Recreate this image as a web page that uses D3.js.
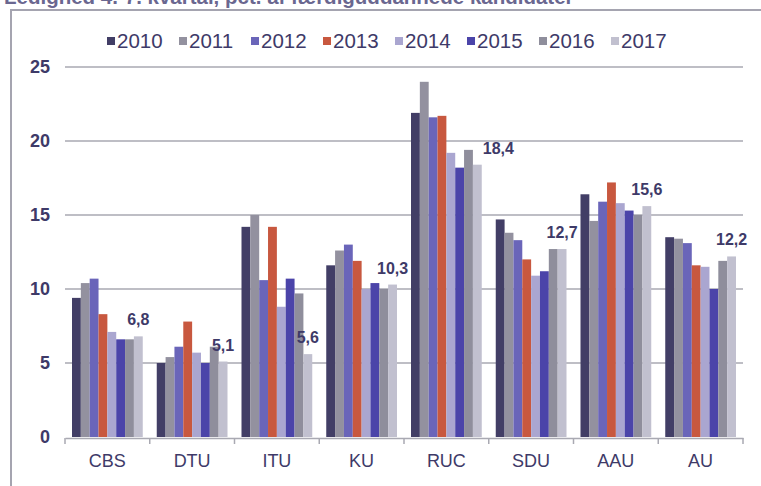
<!DOCTYPE html>
<html>
<head>
<meta charset="utf-8">
<script src="https://cdn.jsdelivr.net/npm/d3@7"></script>
<style>
  body { margin: 0; background: #fff; }
  svg { display: block; font-family: "Liberation Sans", Arial, sans-serif; }
</style>
</head>
<body>
<script>
var categories = ["CBS", "DTU", "ITU", "KU", "RUC", "SDU", "AAU", "AU"];
var years = ["2010", "2011", "2012", "2013", "2014", "2015", "2016", "2017"];

// one array per year, values per category
var v2010 = [9.4, 5.0, 14.2, 11.6, 21.9, 14.7, 16.4, 13.5];
var v2011 = [10.4, 5.4, 15.0, 12.6, 24.0, 13.8, 14.6, 13.4];
var v2012 = [10.7, 6.1, 10.6, 13.0, 21.6, 13.3, 15.9, 13.1];
var v2013 = [8.3, 7.8, 14.2, 11.9, 21.7, 12.0, 17.2, 11.6];
var v2014 = [7.1, 5.7, 8.8, 10.0, 19.2, 10.9, 15.8, 11.5];
var v2015 = [6.6, 5.0, 10.7, 10.4, 18.2, 11.2, 15.3, 10.0];
var v2016 = [6.6, 6.1, 9.7, 10.0, 19.4, 12.7, 15.0, 11.9];
var v2017 = [6.8, 5.1, 5.6, 10.3, 18.4, 12.7, 15.6, 12.2];

var yTicks = [0, 5, 10, 15, 20, 25];
var title = "Ledighed 4.-7. kvartal, pct. af færdiguddannede kandidater";

var series = [v2010, v2011, v2012, v2013, v2014, v2015, v2016, v2017];
var colors = ["#423e66", "#93919f", "#6a65b9", "#c8583f", "#aaa6d0", "#4b44a9", "#8f8e9c", "#c1c0cf"];
var textColor = "#3e3a68";

var width = 761, height = 486;
var svg = d3.select("body").append("svg")
    .attr("width", width)
    .attr("height", height);

// title (cut off at top, as in the source screenshot) and frame
svg.append("text")
    .attr("x", 4)
    .attr("y", 4)
    .attr("font-size", "20.5px")
    .attr("font-weight", "bold")
    .attr("fill", "#6a6790")
    .text(title);

svg.append("rect")
    .attr("x", 11)
    .attr("y", 10)
    .attr("width", 800)
    .attr("height", 600)
    .attr("fill", "none")
    .attr("stroke", "#a5a4b0")
    .attr("stroke-width", 2);

var x0 = d3.scaleBand().domain(categories).range([65, 743]);
var x1 = d3.scaleBand().domain(years).range([7, x0.bandwidth() - 7]);
var y = d3.scaleLinear().domain([0, 25]).range([437, 67]);

// gridlines
svg.selectAll("line.grid")
    .data(yTicks.filter(function(d) { return d > 0; }))
    .enter()
    .append("line")
    .attr("class", "grid")
    .attr("x1", 65)
    .attr("x2", 743)
    .attr("y1", function(d) { return y(d); })
    .attr("y2", function(d) { return y(d); })
    .attr("stroke", "#a9a9b2")
    .attr("stroke-width", 1.5);

svg.selectAll("text.ytick")
    .data(yTicks)
    .enter()
    .append("text")
    .attr("class", "ytick")
    .attr("x", 50)
    .attr("y", function(d) { return y(d) + 6; })
    .attr("text-anchor", "end")
    .attr("font-size", "18px")
    .attr("font-weight", "bold")
    .attr("fill", textColor)
    .text(function(d) { return d; });

// bars
var groups = svg.selectAll("g.cat")
    .data(categories)
    .enter()
    .append("g")
    .attr("class", "cat")
    .attr("transform", function(d) { return "translate(" + x0(d) + ",0)"; });

groups.selectAll("rect")
    .data(function(d, i) {
        return years.map(function(yr, j) { return { year: yr, value: series[j][i], color: colors[j] }; });
    })
    .enter()
    .append("rect")
    .attr("x", function(d) { return x1(d.year); })
    .attr("y", function(d) { return y(d.value); })
    .attr("width", x1.bandwidth())
    .attr("height", function(d) { return y(0) - y(d.value); })
    .attr("fill", function(d) { return d.color; });

// x axis
var axis = svg.append("g")
    .attr("transform", "translate(0,438)")
    .call(d3.axisBottom(x0).tickSize(0).tickFormat(""));
axis.select(".domain").attr("stroke", "#a9a9b2").attr("stroke-width", 1.5);
axis.selectAll(".tick").remove();

svg.selectAll("line.sep")
    .data(categories.concat(["end"]))
    .enter()
    .append("line")
    .attr("class", "sep")
    .attr("x1", function(d, i) { return 65 + i * x0.bandwidth(); })
    .attr("x2", function(d, i) { return 65 + i * x0.bandwidth(); })
    .attr("y1", 438)
    .attr("y2", 444)
    .attr("stroke", "#a9a9b2")
    .attr("stroke-width", 1.5);

svg.selectAll("text.cat")
    .data(categories)
    .enter()
    .append("text")
    .attr("class", "cat")
    .attr("x", function(d) { return x0(d) + x0.bandwidth() / 2; })
    .attr("y", 467)
    .attr("text-anchor", "middle")
    .attr("font-size", "18px")
    .attr("fill", textColor)
    .text(function(d) { return d; });

// value labels for 2017
var labelDx = { RUC: 21 };
svg.selectAll("text.val")
    .data(categories)
    .enter()
    .append("text")
    .attr("class", "val")
    .attr("x", function(d) { return x0(d) + x1("2017") + x1.bandwidth() / 2 + (labelDx[d] || 0); })
    .attr("y", function(d, i) { return y(v2017[i]) - 11; })
    .attr("text-anchor", "middle")
    .attr("font-size", "16px")
    .attr("font-weight", "bold")
    .attr("fill", textColor)
    .text(function(d, i) { return d3.format(".1f")(v2017[i]).replace(".", ","); });

// legend
var legend = svg.selectAll("g.leg")
    .data(years)
    .enter()
    .append("g")
    .attr("class", "leg")
    .attr("transform", function(d, i) { return "translate(" + (107 + i * 72) + ",0)"; });

legend.append("rect")
    .attr("x", 0)
    .attr("y", 37)
    .attr("width", 8)
    .attr("height", 8)
    .attr("fill", function(d, i) { return colors[i]; });

legend.append("text")
    .attr("x", 10)
    .attr("y", 48)
    .attr("font-size", "20.5px")
    .attr("fill", textColor)
    .text(function(d) { return d; });
</script>
</body>
</html>
